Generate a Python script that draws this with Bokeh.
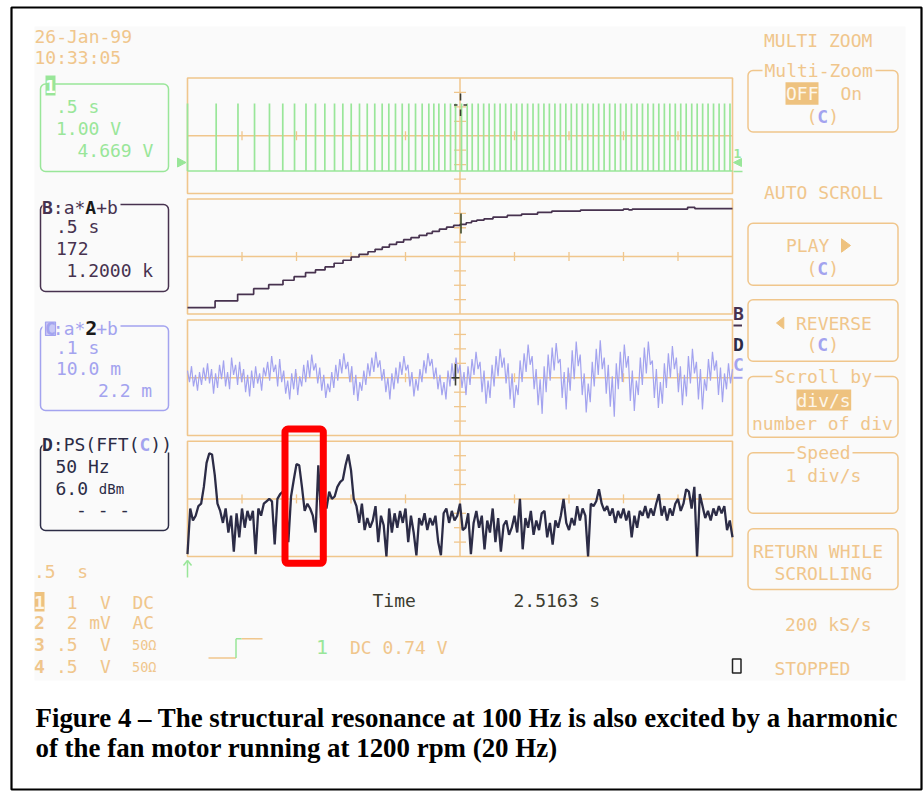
import numpy as np
from bokeh.plotting import figure
from bokeh.models import Range1d
from bokeh.embed import file_html
from bokeh.resources import INLINE
from bokeh.core.properties import value

# ---------------- data ----------------
# Channel 1: tacho pulses (s) at 0.5 s/div, 1 V/div
PULSE_T = [0.0, 0.263, 0.463, 0.615, 0.752, 0.874, 0.982, 1.087, 1.174, 1.260, 1.349,
           1.425, 1.502, 1.578, 1.649, 1.718, 1.786, 1.847, 1.908, 1.970, 2.030, 2.092,
           2.153, 2.214, 2.260, 2.306, 2.361, 2.413, 2.459, 2.514, 2.566, 2.612, 2.667,
           2.717, 2.767, 2.818, 2.868, 2.919, 2.969, 3.019, 3.069, 3.120, 3.170, 3.220,
           3.270, 3.320, 3.371, 3.421, 3.471, 3.521, 3.571, 3.622, 3.672, 3.722, 3.772,
           3.822, 3.873, 3.923, 3.973, 4.023, 4.073, 4.124, 4.174, 4.224, 4.274, 4.324,
           4.375, 4.425, 4.475, 4.525, 4.575, 4.626, 4.676, 4.726, 4.776, 4.826, 4.877,
           4.927, 4.977]
PULSE_V = 4.669

# Trace B: motor speed (rpm) staircase, 172 rpm/div
B_T = [0.0, 0.253, 0.460, 0.607, 0.745, 0.876, 0.978, 1.083, 1.174, 1.262, 1.345, 1.427,
       1.502, 1.574, 1.656, 1.721, 1.787, 1.852, 1.918, 1.983, 2.050, 2.125, 2.196, 2.246,
       2.311, 2.377, 2.442, 2.501, 2.557, 2.606, 2.655, 2.721, 2.803, 2.934, 3.065, 3.212,
       3.343, 3.606, 3.999, 4.048, 4.081, 4.588, 4.654, 5.0]
B_RPM = [13, 92, 172, 239, 287, 340, 383, 430, 463, 499, 543, 579, 618, 650, 681, 710, 737,
         770, 797, 825, 849, 877, 901, 925, 952, 976, 997, 1009, 1028, 1048, 1060, 1075,
         1096, 1116, 1132, 1152, 1167, 1179, 1190, 1182, 1192, 1212, 1197, 1197]

# Trace C: vibration signal (m units), 0.1 s/div, 10.0 m/div
C_M = [5, -3, 8, -6, 2, -9, 4, -5, 7, -2,
       10, -4, 6, -11, 3, -7, 9, -1, 12, -6,
       4, -8, 14, 2, 9, -5, 11, -3, 6, -10,
       2, -13, 5, -7, 8, -4, 3, -9, 7, 1,
       11, -2, 15, 4, 9, -6, 13, -3, 5, -11,
       -2, -15, 3, -8, 6, -12, 1, -6, 9, -3,
       12, 0, 16, 5, 10, -4, 7, -9, 2, -14,
       -4, -10, 4, -7, 9, -2, 13, 3, 17, 6,
       11, -3, 8, -12, 2, -16, -3, -9, 5, -5,
       10, 1, 14, 4, 18, 7, 12, -2, 6, -10,
       0, -15, 3, -8, 7, -4, 11, 2, 15, 5,
       9, -6, 4, -13, -1, -9, 6, -3, 12, 3,
       17, 8, 13, -1, 7, -8, 2, -12, -3, -15,
       5, -6, 10, -2, 14, 3,
       9, -7, 4, -12, 8, -5, 13, 2, 18, 6,
       11, -10, 5, -18, -2, -14, 9, -6, 15, 1,
       20, 7, 14, -4, 10, -15, 3, -21, -5, -12,
       12, -3, 17, 4, 23, 9, 15, -8, 6, -19,
       -1, -25, 8, -10, 16, -2, 21, 5, 24, 10,
       13, -14, 4, -22, 7, -9, 19, -1, 25, 8,
       16, -12, 3, -24, -4, -17, 11, -6, 20, 2,
       26, 6, 14, -11, 9, -20, 1, -27, 10, -8,
       18, -3, 23, 7, 15, -16, 5, -23, -2, -12,
       14, -5, 21, 3, 25, 9, 12, -14, 6, -21,
       -3, -18, 10, -7, 17, 0, 22, 6, 14, -10,
       8, -19, 2, -13, 15, -4, 20, 3, 11, -15,
       6, -22, -1, -9, 13, -2, 18, 5, 12, -12,
       7, -17, 3, -8, 10, -4, 6]
C_SPAN_S = 1.0

# Trace D: power spectrum of C (dBm), 50 Hz/div, 6 dBm/div, 2.5 Hz bins
D_DF = 2.5
D_DBM = [-71, -52, -57, -55, -51, -50, -43, -33, -29, -29.5,
         -38, -50, -53, -58, -52, -62, -55, -70, -54, -64,
         -52, -60, -53, -57, -53, -71, -52, -55, -50, -49,
         -48, -49, -67, -48, -46, -45, -47, -66, -47, -40,
         -33.5, -34, -43, -53, -50, -52, -55, -62, -34, -56,
         -47, -52, -45, -48, -47, -43, -41, -40, -34, -29.5,
         -36, -48, -51, -58, -50, -61, -56, -60, -57, -51,
         -66, -55, -59, -72, -52, -62, -54, -60, -53, -58,
         -52, -66, -55, -62, -71.5, -56, -59, -54, -61, -56,
         -59, -55, -66, -71.5, -54, -52, -58, -53, -57, -55,
         -50, -61, -60, -54, -71, -58, -53, -60, -55, -69,
         -57, -62, -52, -66, -56, -70, -59, -57, -63, -60,
         -55, -62, -48, -69, -56, -60, -53, -63, -57, -61,
         -54, -53, -64, -58, -67, -57, -60, -55, -48, -58,
         -61, -56, -59, -51, -57, -52, -55, -72, -50, -51,
         -49, -44, -50, -53, -51, -55, -52, -58, -53, -56,
         -52, -57, -53, -64, -55, -60, -53, -55, -51, -56,
         -52, -55, -50, -46, -55, -51, -57, -52, -55, -50,
         -48, -53, -50, -44, -45, -52, -43, -72, -46, -51,
         -56, -53, -57, -52, -55, -51, -54, -51, -61, -57,
         -64]

# display settings of the scope traces
CH1_CENTER_V, CH1_VDIV = 2.44, 1.0
B_CENTER, B_DIV = 624, 172
C_CENTER, C_DIV = 0, 10.0
D_CENTER, D_DIV = -48, 6.0
T_DIV, C_T_DIV, F_DIV = 0.5, 0.1, 50

CAPTION = ["Figure 4 \u2013 The structural resonance at 100 Hz is also excited by a harmonic",
           "of the fan motor running at 1200 rpm (20 Hz)"]

# ---------------- styling ----------------
W, H = 924, 791
MONO = "DejaVu Sans Mono"
ORANGE = "#f0c68c"
OFILL = "#eec27f"
GREEN = "#99e699"
PURPLE = "#47324f"
LAV = "#a3a3ef"
NAVY = "#2c2c46"
DARK = "#3c3c30"
BG = "#fafafa"
LIGHT = "#fdf6ea"
CW = 18 * 0.602  # mono char width

p = figure(width=W, height=H, x_range=Range1d(0, W), y_range=Range1d(H, 0),
           output_backend="svg", toolbar_location=None, min_border=0,
           x_axis_location=None, y_axis_location=None)
p.grid.visible = False
p.outline_line_color = None
p.background_fill_color = "white"
p.border_fill_color = "white"

# screen geometry
PX0, PX1 = 187.0, 732.0
XC = (PX0 + PX1) / 2
PANELS = [(77.5, 193.0), (198.5, 313.5), (319.5, 435.0), (440.8, 556.0)]


def xrange_for(px0, px1, v0, v1):
    s = (v1 - v0) / (px1 - px0)
    return Range1d(start=v0 - px0 * s, end=v1 + (W - px1) * s)


def yrange_for(py_top, py_bot, v_top, v_bot):
    s = (v_top - v_bot) / (py_bot - py_top)
    return Range1d(start=v_bot - (H - py_bot) * s, end=v_top + py_top * s)


p.extra_x_ranges = {
    "t5": xrange_for(PX0, PX1, 0, 10 * T_DIV),
    "t1": xrange_for(PX0, PX1, 0, 10 * C_T_DIV),
    "f": xrange_for(PX0, PX1, 0, 10 * F_DIV),
}
p.extra_y_ranges = {
    "ch1": yrange_for(*PANELS[0], CH1_CENTER_V + 4 * CH1_VDIV, CH1_CENTER_V - 4 * CH1_VDIV),
    "B": yrange_for(*PANELS[1], B_CENTER + 4 * B_DIV, B_CENTER - 4 * B_DIV),
    "C": yrange_for(*PANELS[2], C_CENTER + 4 * C_DIV, C_CENTER - 4 * C_DIV),
    "D": yrange_for(*PANELS[3], D_CENTER + 4 * D_DIV, D_CENTER - 4 * D_DIV),
}


def T(x, y, s, color, size=18, bold=False, font=MONO, align="left", baseline="middle"):
    p.text(x=[x], y=[y], text=[s], text_color=color, text_font=value(font),
           text_font_size=f"{size}px", text_font_style="bold" if bold else "normal",
           text_align=align, text_baseline=baseline)


def box(l, r, t, b, color, fill=None, width=1.5, radius=5):
    p.quad(left=[l], right=[r], top=[t], bottom=[b], fill_color=fill,
           line_color=color, line_width=width, border_radius=radius)


def cover(l, r, t, b):
    p.quad(left=[l], right=[r], top=[t], bottom=[b], fill_color=BG, line_color=None)


def seg(x0, y0, x1, y1, color, width=1.5):
    p.segment(x0=x0, y0=y0, x1=x1, y1=y1, line_color=color, line_width=width)


# backgrounds and frame
p.quad(left=[34], right=[905], top=[26], bottom=[680], fill_color=BG, line_color=None)
p.quad(left=[11], right=[921], top=[7], bottom=[789], fill_color=None,
       line_color="black", line_width=2.2)

# graticules
for top, bot in PANELS:
    mid = (top + bot) / 2
    dy = (bot - top) / 8
    p.quad(left=[PX0], right=[PX1], top=[top], bottom=[bot], fill_color=None,
           line_color=ORANGE, line_width=1.6)
    seg([PX0, XC], [mid, top], [PX1, XC], [mid, bot], ORANGE, 1.5)
    tx = [PX0 + (PX1 - PX0) / 10 * k for k in range(1, 10) if k != 5]
    seg(tx, [mid - 4.5] * len(tx), tx, [mid + 4.5] * len(tx), ORANGE, 1.3)
    ty = [mid + s * dy * j for j in (1, 2, 3) for s in (-1, 1)]
    seg([XC - 6] * len(ty), ty, [XC + 6] * len(ty), ty, ORANGE, 1.3)

# ---------------- traces ----------------
p.line([0, 10 * T_DIV], [0, 0], x_range_name="t5", y_range_name="ch1",
       line_color=GREEN, line_width=1.5)
p.segment(x0=PULSE_T, y0=[0] * len(PULSE_T), x1=PULSE_T, y1=[PULSE_V] * len(PULSE_T),
          x_range_name="t5", y_range_name="ch1", line_color=GREEN, line_width=1.7)

p.step(B_T, B_RPM, mode="after", x_range_name="t5", y_range_name="B",
       line_color=PURPLE, line_width=1.7)

c_t = np.arange(len(C_M)) * (C_SPAN_S / (len(C_M) - 1))
p.line(c_t, C_M, x_range_name="t1", y_range_name="C", line_color=LAV, line_width=1.2)

d_f = np.arange(len(D_DBM)) * D_DF
p.line(d_f, D_DBM, x_range_name="f", y_range_name="D", line_color=NAVY, line_width=2.3)

# cursors
seg([460, 460, 453.5, 463], [93, 109, 104.5, 104.5], [460, 460, 457, 466.5], [100, 115.5, 104.5, 104.5], DARK, 1.6)
seg([460.5], [213], [460.5], [233], "#3d4a2a", 1.6)
seg([455, 451], [363.5, 377.3], [455, 459], [385, 377.3], DARK, 1.6)

# ground / channel markers
p.patch([177, 177, 185.5], [157.5, 166.5, 162], fill_color=GREEN, line_color=GREEN)
p.patch([733, 741, 741], [162, 158, 166], fill_color=GREEN, line_color=GREEN)
T(733, 153, "1", GREEN, size=13, bold=True)
seg([733], [171], [742], [171], GREEN, 1.5)
T(732.5, 312.5, "B", PURPLE, size=18, bold=True)
seg([733], [325], [741.5], [325], PURPLE, 2)
T(732.5, 343.5, "D", NAVY, size=18, bold=True)
T(732.5, 363.5, "C", LAV, size=18, bold=True)
seg([733], [377.3], [742], [377.3], LAV, 2)
seg([187, 183, 187], [577, 565, 560], [187, 187, 191], [560, 560, 565], GREEN, 1.5)

# red highlight box
p.quad(left=[284.5], right=[322.8], top=[428.5], bottom=[562.8], fill_color=None,
       line_color="#ff0000", line_width=7, border_radius=3)

# ---------------- left info panels ----------------
T(34, 36, "26-Jan-99", ORANGE)
T(34, 57, "10:33:05", ORANGE)

box(40, 168, 83.5, 171, GREEN)
p.quad(left=[45], right=[55], top=[75], bottom=[95], fill_color=GREEN, line_color=None)
T(50, 85.5, "1", "white", bold=True, align="center")
T(55.5, 106, ".5 s", GREEN)
T(55.5, 127.5, "1.00 V", GREEN)
T(77, 149.5, "4.669 V", GREEN)

x0 = 41.5
box(40, 168, 204, 291, PURPLE)
cover(42, 120, 197, 213)
T(x0, 207, "B", PURPLE, bold=True)
T(x0 + CW, 207, ":a*", PURPLE)
T(x0 + 4 * CW, 207, "A", "#1a1a1a", bold=True)
T(x0 + 5 * CW, 207, "+b", PURPLE)
T(55.5, 226, ".5 s", PURPLE)
T(55.5, 247.5, "172", PURPLE)
T(66, 269.5, "1.2000 k", PURPLE)

box(40, 168, 325.5, 410, LAV)
cover(42, 120, 318, 334)
p.quad(left=[45], right=[55], top=[321.5], bottom=[335], fill_color="#c9c9f6",
       line_color=LAV, line_width=1.2)
T(50, 328, "C", LAV, bold=True, align="center")
T(x0 + CW, 327.5, ":a*", LAV)
T(x0 + 4 * CW, 327.5, "2", "#1a1a1a", size=20, bold=True)
T(x0 + 5 * CW, 327.5, "+b", LAV)
T(55.5, 346.5, ".1 s", LAV)
T(55.5, 368, "10.0 m", LAV)
T(97.5, 389.5, "2.2 m", LAV)

box(40, 168, 444, 530, NAVY)
cover(42, 175, 437, 452)
T(x0, 444, "D", NAVY, bold=True)
T(x0 + CW, 444, ":PS(FFT(", NAVY)
T(x0 + 9 * CW, 444, "C", LAV, bold=True)
T(x0 + 10 * CW, 444, "))", NAVY)
T(55, 465.5, "50 Hz", NAVY)
T(55, 487.5, "6.0", NAVY)
T(55 + 4 * CW, 488.5, "dBm", NAVY, size=14)
T(75.5, 509, "-", NAVY)
T(75.5 + 2 * CW, 509, "-", NAVY)
T(75.5 + 4 * CW, 509, "-", NAVY)

# bottom-left channel settings
T(33.5, 571, ".5", ORANGE)
T(33.5 + 4 * CW, 571, "s", ORANGE)
p.quad(left=[34], right=[44], top=[591.5], bottom=[611], fill_color=OFILL, line_color=None)
T(39, 601.5, "1", LIGHT, bold=True, align="center")
ROWS = [(601.5, None, "1", "V", "DC"), (621.7, "2", "2", "mV", "AC"),
        (644, "3", ".5", "V", "50\u03a9"), (665.7, "4", ".5", "V", "50\u03a9")]
for yy, num, a, b, c in ROWS:
    if num:
        T(33.5, yy, num, ORANGE, bold=True)
    T(55.5 + CW * (2 - len(a)), yy, a, ORANGE)
    T(88.7 + CW * (2 - len(b)), yy, b, ORANGE)
    if c == "50\u03a9":
        T(131.5, yy + 0.5, c, ORANGE, size=13.5)
    else:
        T(132, yy, c, ORANGE)

# trigger symbol and readouts
seg([208, 241], [657.5, 638.3], [235.5, 262], [657.5, 638.3], ORANGE, 1.5)
seg([235.5, 235.5], [657.5, 638.3], [235.5, 241], [638.3, 638.3], GREEN, 1.5)
T(315.5, 646.5, "1", GREEN, size=20)
T(349.5, 646.5, "DC 0.74 V", ORANGE)
T(372, 600, "Time", DARK)
T(513, 600, "2.5163 s", DARK)

# ---------------- right menu ----------------
BL, BR = 747.5, 897.5
T(763.5, 40, "MULTI ZOOM", ORANGE)
box(BL, BR, 70, 131.5, ORANGE)
cover(762, 875, 62, 78)
T(764, 70, "Multi-Zoom", ORANGE)
p.quad(left=[785], right=[818], top=[81.7], bottom=[104.3], fill_color=OFILL, line_color=None)
T(785.5, 93, "OFF", LIGHT)
T(840, 93, "On", ORANGE)
T(806, 116, "(", ORANGE)
T(806 + CW, 116, "C", LAV, bold=True)
T(806 + 2 * CW, 116, ")", ORANGE)

T(763.5, 192, "AUTO SCROLL", ORANGE)
box(BL, BR, 222.7, 284.7, ORANGE)
T(785.5, 245, "PLAY", ORANGE)
p.patch([841, 841, 850], [238.3, 251.7, 245], fill_color=OFILL, line_color=OFILL)
T(806, 268, "(", ORANGE)
T(806 + CW, 268, "C", LAV, bold=True)
T(806 + 2 * CW, 268, ")", ORANGE)

box(BL, BR, 299.3, 360.7, ORANGE)
p.patch([783.3, 783.3, 776], [316.7, 328.3, 322.5], fill_color=OFILL, line_color=OFILL)
T(795.5, 322.5, "REVERSE", ORANGE)
T(806, 344, "(", ORANGE)
T(806 + CW, 344, "C", LAV, bold=True)
T(806 + 2 * CW, 344, ")", ORANGE)

box(BL, BR, 376, 436.7, ORANGE)
cover(772, 874, 369, 383)
T(774, 376, "Scroll by", ORANGE)
p.quad(left=[796], right=[850.7], top=[389], bottom=[410], fill_color=OFILL, line_color=None)
T(796, 399.5, "div/s", LIGHT)
T(751.5, 422.5, "number of div", ORANGE)

box(BL, BR, 452.3, 512.7, ORANGE)
cover(794, 852, 445, 459)
T(796, 452, "Speed", ORANGE)
T(785, 475, "1 div/s", ORANGE)

box(BL, BR, 528.3, 589, ORANGE)
T(752.5, 550.7, "RETURN WHILE", ORANGE)
T(774, 573.3, "SCROLLING", ORANGE)

T(784.5, 624.3, "200 kS/s", ORANGE)
p.quad(left=[732], right=[740.5], top=[658.5], bottom=[672.5], fill_color=None,
       line_color="#222222", line_width=1.5)
T(774, 667.7, "STOPPED", ORANGE)

# ---------------- caption ----------------
T(35, 717, CAPTION[0], "black", size=26.9, bold=True, font="Liberation Serif",
  baseline="alphabetic")
T(35, 747, CAPTION[1], "black", size=26.9, bold=True, font="Liberation Serif",
  baseline="alphabetic")

open("out.html", "w").write(file_html(p, INLINE))
